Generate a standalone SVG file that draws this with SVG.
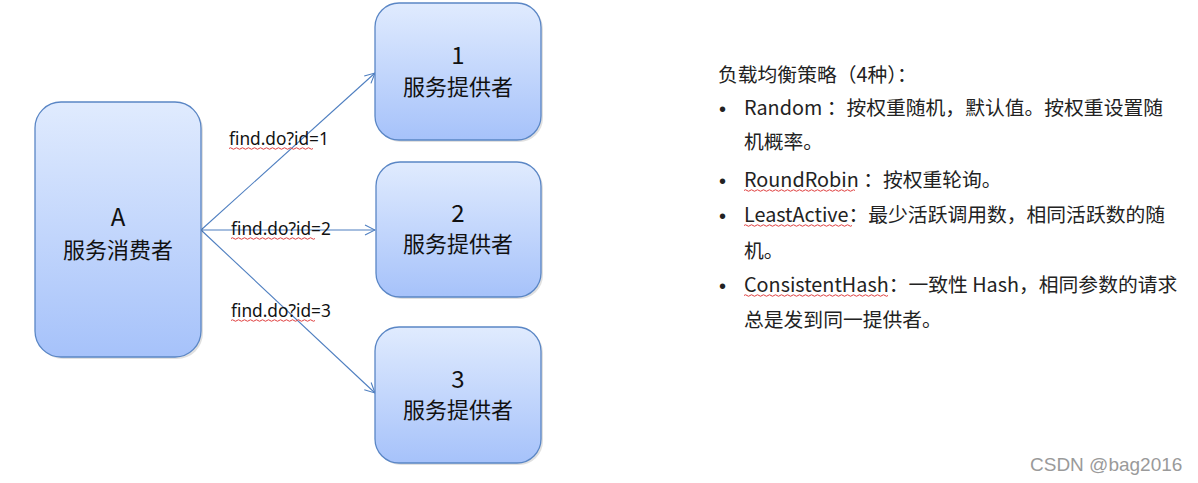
<svg xmlns="http://www.w3.org/2000/svg" width="1198" height="483" viewBox="0 0 1198 483">
<style>
.box{fill:url(#g);stroke:#5a86c5;stroke-width:1.3}
.sh{fill:#000;opacity:0.12}
.nt{font-family:"Noto Sans CJK SC","Noto Sans",sans-serif;font-size:22px;fill:#111;text-anchor:middle}
.big{font-size:24px}
.edge{stroke:#4f7fc0;stroke-width:1.1;fill:none}
.lbl{font-family:"Noto Sans","Noto Sans CJK SC",sans-serif;font-size:17.3px;fill:#111}
.wave{stroke:#e04040;stroke-width:1;fill:none}
.rt{font-family:"Noto Sans CJK SC",sans-serif;font-size:19.8px;fill:#222}
.bl{font-family:"Liberation Sans",sans-serif;font-size:20px;fill:#222}
.wm{font-family:"Liberation Sans",sans-serif;font-size:19px;fill:#9a9a9a}
</style>
<defs>
<linearGradient id="g" x1="0" y1="0" x2="0" y2="1">
<stop offset="0" stop-color="#e0ebfe"/>
<stop offset="1" stop-color="#a6c2fa"/>
</linearGradient>
<marker id="ah" markerWidth="12" markerHeight="12" refX="11" refY="6" orient="auto" markerUnits="userSpaceOnUse">
<path d="M1,1 L11,6 L1,11" fill="none" stroke="#4f7fc0" stroke-width="1.1"/>
</marker>
</defs>
<rect width="1198" height="483" fill="#fff"/>

<g id="edges">
<line class="edge" x1="201" y1="230" x2="375" y2="73" marker-end="url(#ah)"/>
<line class="edge" x1="201" y1="230" x2="375" y2="230" marker-end="url(#ah)"/>
<line class="edge" x1="201" y1="230" x2="375" y2="393" marker-end="url(#ah)"/>
<text class="lbl" x="229" y="145">find.do?id=1</text>
<text class="lbl" x="231" y="235">find.do?id=2</text>
<text class="lbl" x="231" y="317">find.do?id=3</text>
<path class="wave" d="M229,148.5 q1.5,-1.5 3,0 t3,0 t3,0 t3,0 t3,0 t3,0 t3,0 t3,0 t3,0 t3,0 t3,0 t3,0 t3,0 t3,0 t3,0 t3,0 t3,0 t3,0 t3,0 t3,0 t3,0 t3,0 t3,0 t3,0 t3,0 t3,0 t3,0 t3,0"/>
<path class="wave" d="M231,238.5 q1.5,-1.5 3,0 t3,0 t3,0 t3,0 t3,0 t3,0 t3,0 t3,0 t3,0 t3,0 t3,0 t3,0 t3,0 t3,0 t3,0 t3,0 t3,0 t3,0 t3,0 t3,0 t3,0 t3,0 t3,0 t3,0 t3,0 t3,0 t3,0 t3,0"/>
<path class="wave" d="M231,320.5 q1.5,-1.5 3,0 t3,0 t3,0 t3,0 t3,0 t3,0 t3,0 t3,0 t3,0 t3,0 t3,0 t3,0 t3,0 t3,0 t3,0 t3,0 t3,0 t3,0 t3,0 t3,0 t3,0 t3,0 t3,0 t3,0 t3,0 t3,0 t3,0 t3,0"/>
</g>

<g id="consumer">
<rect class="sh" x="37" y="104" width="166" height="255" rx="26"/>
<rect class="box" x="35" y="102" width="166" height="255" rx="26"/>
<text class="nt big" x="118" y="226">A</text>
<text class="nt" x="118" y="258">服务消费者</text>
</g>

<g id="provider1">
<rect class="sh" x="377" y="5" width="166" height="137" rx="24"/>
<rect class="box" x="375" y="3" width="166" height="137" rx="24"/>
<text class="nt big" x="458" y="64">1</text>
<text class="nt" x="458" y="95">服务提供者</text>
</g>

<g id="provider2">
<rect class="sh" x="378" y="164" width="165" height="135" rx="24"/>
<rect class="box" x="376" y="162" width="165" height="135" rx="24"/>
<text class="nt big" x="458" y="222">2</text>
<text class="nt" x="458" y="252">服务提供者</text>
</g>

<g id="provider3">
<rect class="sh" x="377" y="329" width="166" height="136" rx="24"/>
<rect class="box" x="375" y="327" width="166" height="136" rx="24"/>
<text class="nt big" x="458" y="388">3</text>
<text class="nt" x="458" y="418">服务提供者</text>
</g>

<g id="notes">
<text class="rt" x="718" y="82">负载均衡策略（4种）：</text>
<text class="bl" x="719" y="116">•</text>
<text class="rt" x="744" y="115">Random ：按权重随机，默认值。按权重设置随</text>
<text class="rt" x="744" y="149">机概率。</text>
<text class="bl" x="719" y="188">•</text>
<text class="rt" x="744" y="187">RoundRobin ：按权重轮询。</text>
<text class="bl" x="719" y="223">•</text>
<text class="rt" x="744" y="222">LeastActive：最少活跃调用数，相同活跃数的随</text>
<text class="rt" x="744" y="258">机。</text>
<text class="bl" x="719" y="293">•</text>
<text class="rt" x="744" y="292">ConsistentHash：一致性 Hash，相同参数的请求</text>
<text class="rt" x="744" y="327">总是发到同一提供者。</text>
<path class="wave" d="M744,190.5 q1.5,-1.5 3,0 t3,0 t3,0 t3,0 t3,0 t3,0 t3,0 t3,0 t3,0 t3,0 t3,0 t3,0 t3,0 t3,0 t3,0 t3,0 t3,0 t3,0 t3,0 t3,0 t3,0 t3,0 t3,0 t3,0 t3,0 t3,0 t3,0 t3,0 t3,0 t3,0 t3,0 t3,0 t3,0 t3,0 t3,0 t3,0 t3,0"/>
<path class="wave" d="M744,225.5 q1.5,-1.5 3,0 t3,0 t3,0 t3,0 t3,0 t3,0 t3,0 t3,0 t3,0 t3,0 t3,0 t3,0 t3,0 t3,0 t3,0 t3,0 t3,0 t3,0 t3,0 t3,0 t3,0 t3,0 t3,0 t3,0 t3,0 t3,0 t3,0 t3,0 t3,0 t3,0 t3,0 t3,0 t3,0 t3,0 t3,0 t3,0"/>
<path class="wave" d="M744,295.5 q1.5,-1.5 3,0 t3,0 t3,0 t3,0 t3,0 t3,0 t3,0 t3,0 t3,0 t3,0 t3,0 t3,0 t3,0 t3,0 t3,0 t3,0 t3,0 t3,0 t3,0 t3,0 t3,0 t3,0 t3,0 t3,0 t3,0 t3,0 t3,0 t3,0 t3,0 t3,0 t3,0 t3,0 t3,0 t3,0 t3,0 t3,0 t3,0 t3,0 t3,0 t3,0 t3,0 t3,0 t3,0 t3,0 t3,0 t3,0 t3,0 t3,0"/>
</g>

<text class="wm" x="1030" y="471">CSDN @bag2016</text>
</svg>
